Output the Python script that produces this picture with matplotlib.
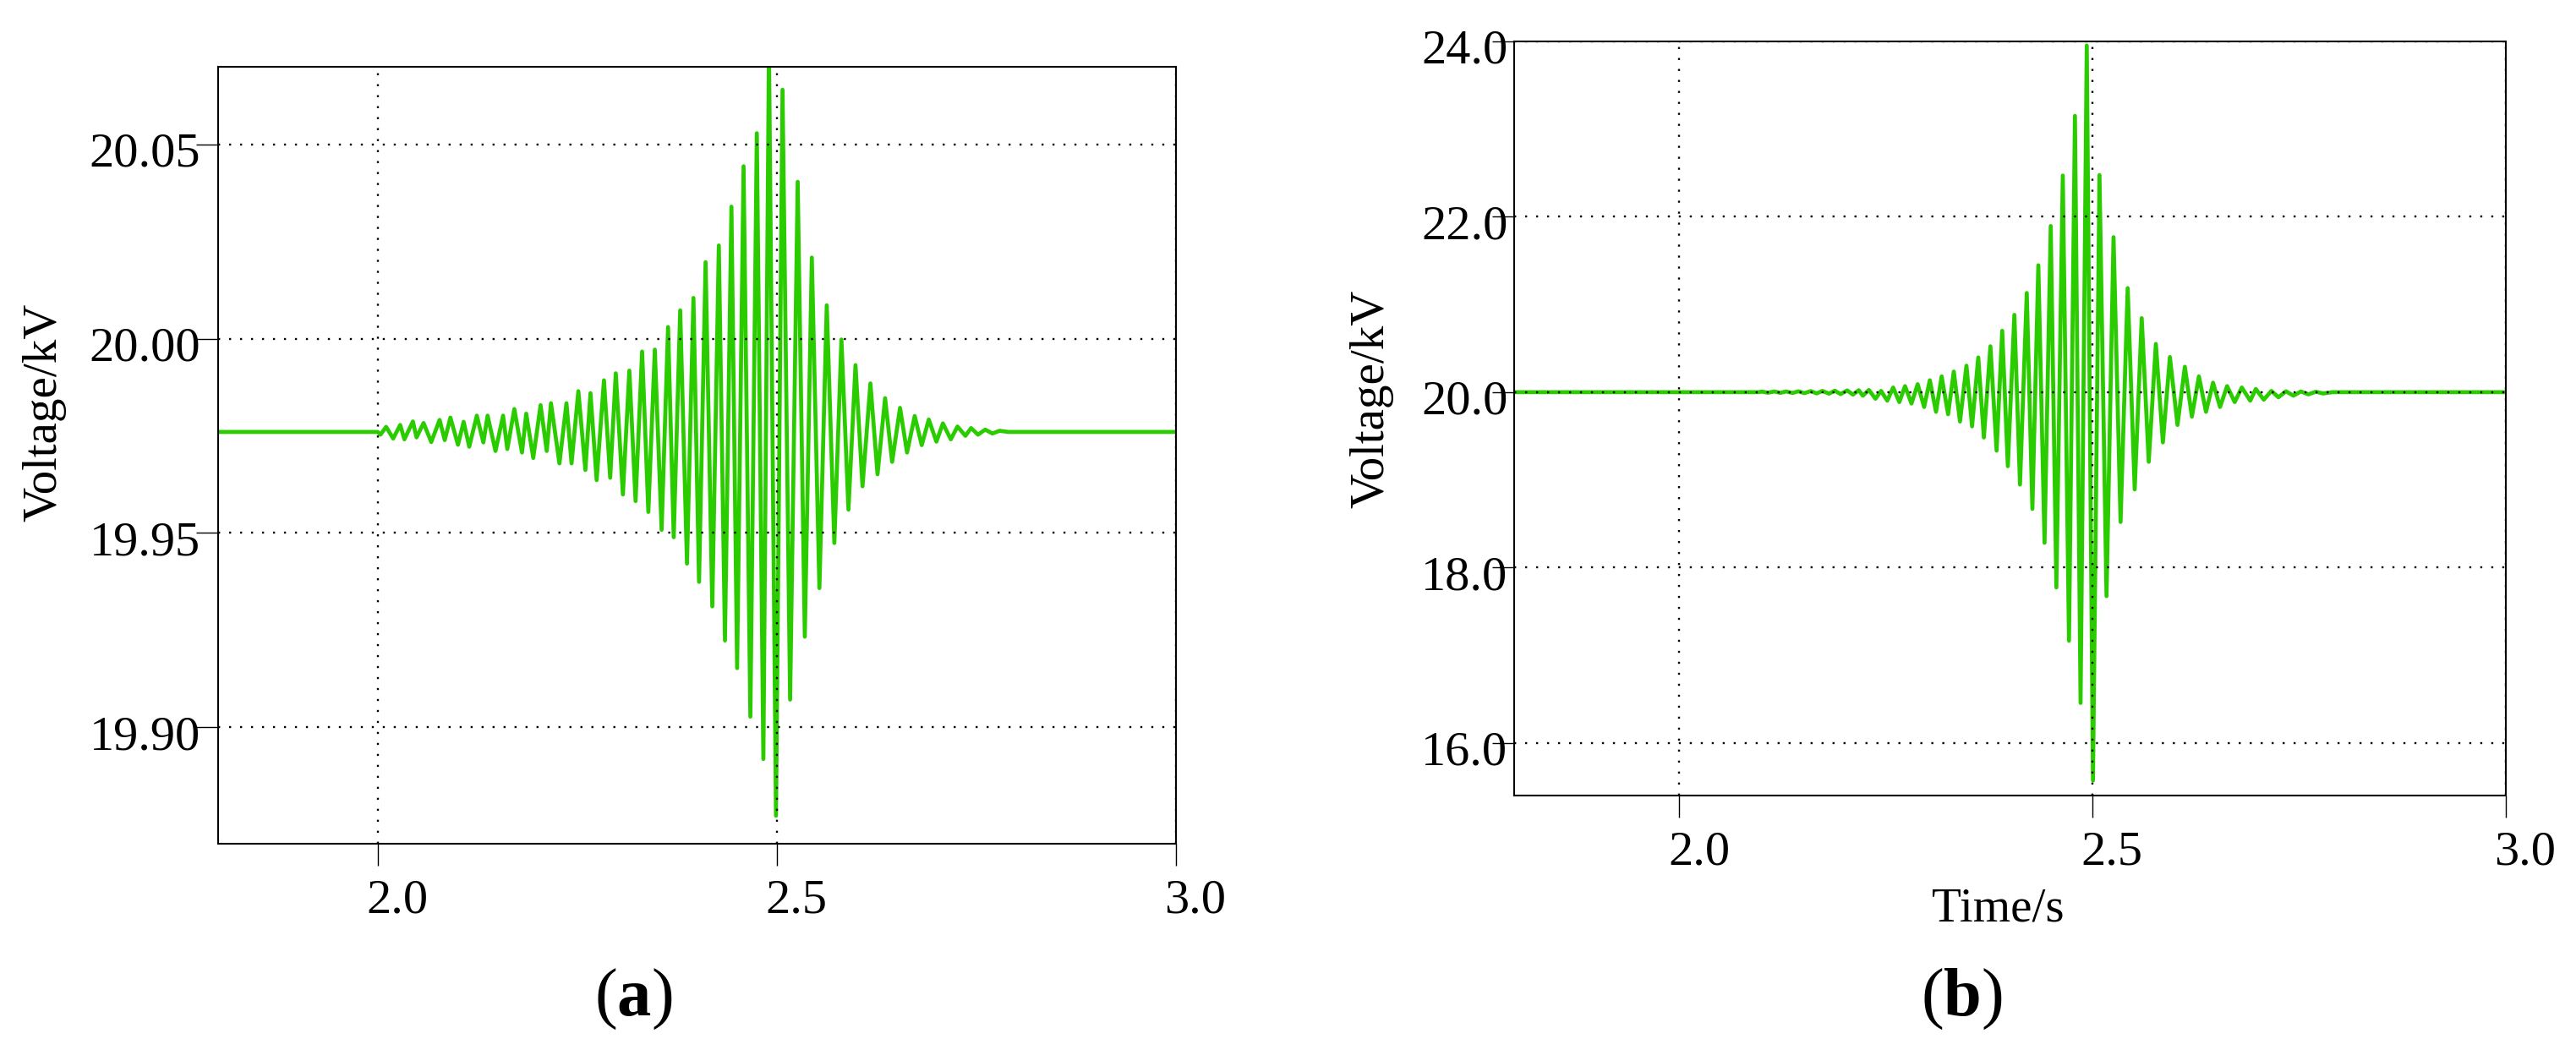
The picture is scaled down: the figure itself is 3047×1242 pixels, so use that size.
import matplotlib
matplotlib.use("Agg")
import matplotlib.pyplot as plt
from matplotlib.transforms import ScaledTranslation

plt.rcParams["font.family"] = ["Liberation Serif", "DejaVu Serif"]
plt.rcParams["mathtext.fontset"] = "custom"
plt.rcParams["mathtext.rm"] = "Liberation Serif"
plt.rcParams["mathtext.bf"] = "Liberation Serif:bold"

# panel (a): oscillation extrema (time in s, voltage in kV)
time_a = [1.80, 2.000, 2.0034, 2.0105, 2.0193, 2.0281, 2.0334, 2.0440, 2.0486, 2.0574,
          2.0670, 2.0775, 2.0839, 2.0910, 2.1005, 2.1076, 2.1146, 2.1241, 2.1323, 2.1376,
          2.1475, 2.1570, 2.1623, 2.1711, 2.1807, 2.1860, 2.1948, 2.2040, 2.2117, 2.2170,
          2.2276, 2.2364, 2.2428, 2.2513, 2.2601, 2.2665, 2.2742, 2.2834, 2.2912, 2.2982,
          2.3071, 2.3152, 2.3230, 2.3312, 2.3390, 2.3471, 2.3556, 2.3637, 2.3708, 2.3789,
          2.3874, 2.3955, 2.4025, 2.4107, 2.4191, 2.4273, 2.4350, 2.4431, 2.4502, 2.4583,
          2.4668, 2.4749, 2.4831, 2.4901, 2.4989, 2.5071, 2.5166, 2.5261, 2.5350, 2.5438,
          2.5533, 2.5625, 2.5720, 2.5809, 2.5897, 2.5985, 2.6073, 2.6172, 2.6261, 2.6356,
          2.6444, 2.6543, 2.6631, 2.6727, 2.6815, 2.6903, 2.6999, 2.7080, 2.7179, 2.7263,
          2.7362, 2.7433, 2.752, 2.761, 2.770, 2.779, 2.790, 3.00]
volt_a = [19.976, 19.976, 19.9753, 19.9773, 19.9743, 19.9778, 19.9741, 19.9787, 19.9746, 19.9783,
          19.9734, 19.9791, 19.9739, 19.9797, 19.9727, 19.9786, 19.9722, 19.9802, 19.9733, 19.9802,
          19.9711, 19.9802, 19.9716, 19.9819, 19.9707, 19.9807, 19.9693, 19.9829, 19.9711, 19.9834,
          19.9679, 19.9834, 19.9679, 19.9865, 19.9662, 19.9860, 19.9636, 19.9893, 19.9642, 19.9911,
          19.9599, 19.9918, 19.9582, 19.9967, 19.9554, 19.9972, 19.9508, 20.0030, 19.9489, 20.0073,
          19.9421, 20.0105, 19.9374, 20.0197, 19.9311, 20.0240, 19.9223, 20.0340, 19.9152, 20.0444,
          19.9027, 20.0529, 19.8918, 20.0750, 19.8772, 20.0641, 19.9071, 20.0404, 19.9233, 20.0209,
          19.9358, 20.0086, 19.9474, 19.9998, 19.9560, 19.9932, 19.9620, 19.9885, 19.9651, 19.9847,
          19.9683, 19.9822, 19.9707, 19.9801, 19.9726, 19.9792, 19.9735, 19.9782, 19.9741, 19.9774,
          19.9750, 19.9770, 19.9753, 19.9766, 19.9756, 19.9763, 19.9760, 19.976]

# panel (b)
time_b = [1.80, 2.095, 2.100, 2.107, 2.115, 2.122, 2.129, 2.137, 2.144, 2.151,
          2.159, 2.166, 2.173, 2.181, 2.188, 2.195, 2.203, 2.210, 2.217, 2.222,
          2.2293, 2.2372, 2.2440, 2.2515, 2.2586, 2.2661, 2.2730, 2.2808, 2.2883, 2.2961,
          2.3030, 2.3105, 2.3173, 2.3251, 2.3320, 2.3395, 2.3473, 2.3541, 2.3616, 2.3684,
          2.3763, 2.3838, 2.3906, 2.3974, 2.4053, 2.4121, 2.4203, 2.4271, 2.4343, 2.4418,
          2.4493, 2.4561, 2.4639, 2.4714, 2.4786, 2.4854, 2.4929, 2.5004, 2.5083, 2.5168,
          2.5253, 2.5338, 2.5424, 2.5509, 2.5594, 2.5679, 2.5765, 2.5850, 2.5935, 2.6027,
          2.6116, 2.6201, 2.6286, 2.6372, 2.6457, 2.6542, 2.6627, 2.6719, 2.6805, 2.6907,
          2.6975, 2.7071, 2.7163, 2.7248, 2.734, 2.743, 2.752, 2.761, 2.770, 2.779,
          2.790, 3.00]
volt_b = [20.0, 20.0, 20.006, 19.994, 20.008, 19.992, 20.008, 19.991, 20.010, 19.989,
          20.012, 19.986, 20.014, 19.983, 20.017, 19.978, 20.020, 19.972, 20.022, 19.960,
          20.025, 19.925, 20.014, 19.903, 20.053, 19.887, 20.069, 19.870, 20.091, 19.831,
          20.136, 19.776, 20.180, 19.748, 20.235, 19.665, 20.302, 19.610, 20.396, 19.483,
          20.523, 19.333, 20.700, 19.156, 20.882, 18.946, 21.131, 18.669, 21.447, 18.282,
          21.895, 17.773, 22.470, 17.165, 23.151, 16.456, 23.953, 15.571, 22.476, 17.674,
          21.768, 18.520, 21.187, 18.891, 20.844, 19.206, 20.550, 19.427, 20.401, 19.626,
          20.290, 19.721, 20.180, 19.776, 20.108, 19.831, 20.069, 19.887, 20.053, 19.903,
          20.036, 19.914, 20.014, 19.942, 20.010, 19.960, 20.008, 19.975, 20.005, 19.985,
          20.0, 20.0]

x_ticks = [2.0, 2.5, 3.0]
y_ticks_a = [19.90, 19.95, 20.00, 20.05]
y_ticks_b = [16.0, 18.0, 20.0, 22.0, 24.0]

GREEN = "#2ACC00"

fig = plt.figure(figsize=(30.47, 12.42), dpi=100)
ax_a = fig.add_axes([0.08467, 0.19646, 0.37184, 0.73993])
ax_b = fig.add_axes([0.58779, 0.24235, 0.38497, 0.71820])


def style(ax, yticks, fmt, ypad):
    ax.set_xlim(1.8, 3.0)
    ax.set_xticks(x_ticks)
    ax.set_xticklabels([f"{v:.1f}" for v in x_ticks])
    ax.set_yticks(yticks)
    ax.set_yticklabels([fmt.format(v) for v in yticks])
    ax.tick_params(direction="out", length=18.5, width=1.0, labelsize=42, color="black")
    ax.tick_params(axis="x", pad=11.5)
    ax.tick_params(axis="y", pad=ypad)
    ax.grid(True, color="black", linestyle=(0, (1, 4.5)), linewidth=1.7)
    ax.set_axisbelow(False)
    for s in ax.spines.values():
        s.set_linewidth(1.5)
    # labels in the original sit a bit right of / below their ticks
    dx = ScaledTranslation(0.23, 0, fig.dpi_scale_trans)
    for lab in ax.get_xticklabels():
        lab.set_transform(lab.get_transform() + dx)
    dy = ScaledTranslation(0, -0.06, fig.dpi_scale_trans)
    for lab in ax.get_yticklabels():
        lab.set_transform(lab.get_transform() + dy)


ax_a.plot(time_a, volt_a, color=GREEN, lw=3.4, zorder=2)
ax_a.set_ylim(19.870, 20.070)
style(ax_a, y_ticks_a, "{:.2f}", -3.6)

ax_b.plot(time_b, volt_b, color=GREEN, lw=3.4, zorder=2)
ax_b.set_ylim(15.4, 24.0)
style(ax_b, y_ticks_b, "{:.1f}", -13)

W, H = 3047, 1242
fig.text(52 / W, 1 - 488 / H, "Voltage/kV", rotation=90, ha="center", va="center", fontsize=41)
fig.text(1622 / W, 1 - 472 / H, "Voltage/kV", rotation=90, ha="center", va="center", fontsize=41)
fig.text(2363 / W, 1 - 1076 / H, "Time/s", ha="center", va="center", fontsize=41)
fig.text(749 / W, 1 - 1182 / H, r"($\mathbf{a}$)", ha="center", va="center", fontsize=58)
fig.text(2320 / W, 1 - 1182 / H, r"($\mathbf{b}$)", ha="center", va="center", fontsize=58)

fig.savefig("out.png", dpi=100)
